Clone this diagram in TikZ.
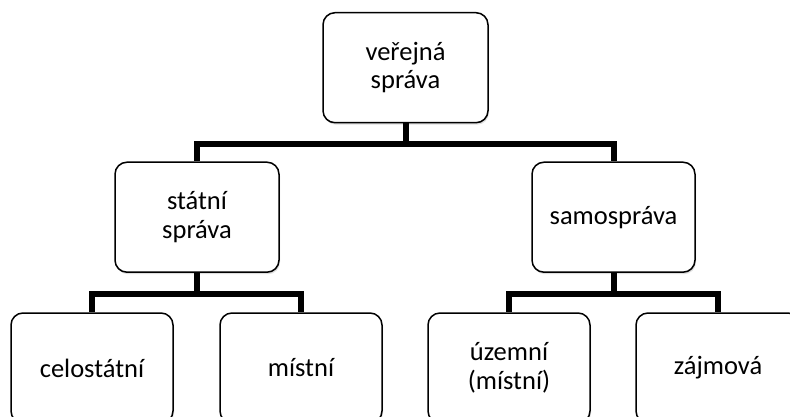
\documentclass[tikz,border=0pt]{standalone}
\usepackage{fontspec}
\setmainfont{Carlito}
\usetikzlibrary{shadows}
\begin{document}
\begin{tikzpicture}[x=1pt,y=-1pt,
  box/.style={draw=black, line width=1.5pt, rounded corners=12pt, fill=white,
    drop shadow={shadow xshift=1pt, shadow yshift=-2pt, opacity=0.25},
    inner sep=0pt, align=center, minimum height=110pt,
    font=\fontsize{26.5}{28.5}\selectfont},
  conn/.style={line width=6pt, draw=black}]
\useasboundingbox (0,0) rectangle (790,416);
\clip (0,0) rectangle (790,416);
\node[box, minimum width=165pt] (vs) at (405.5,67.7) {veřejná\\správa};
\node[box, minimum width=164pt] (ss) at (197,217.2) {státní\\správa};
\node[box, minimum width=163pt] (sam) at (613.5,217.2) {samospráva};
\node[box, minimum width=162pt] (cel) at (92,368) {celostátní};
\node[box, minimum width=162pt] (mis) at (301,368) {místní};
\node[box, minimum width=162pt] (uz) at (509,368) {územní\\(místní)};
\node[box, minimum width=164pt] (zaj) at (718,368) {zájmová};
\draw[conn] (vs.south) -- ++(0,20.6) -| (ss.north);
\draw[conn] (vs.south) -- ++(0,20.6) -| (sam.north);
\draw[conn] (ss.south) -- ++(0,20.6) -| (cel.north);
\draw[conn] (ss.south) -- ++(0,20.6) -| (mis.north);
\draw[conn] (sam.south) -- ++(0,20.6) -| (uz.north);
\draw[conn] (sam.south) -- ++(0,20.6) -| (zaj.north);
\end{tikzpicture}
\end{document}
